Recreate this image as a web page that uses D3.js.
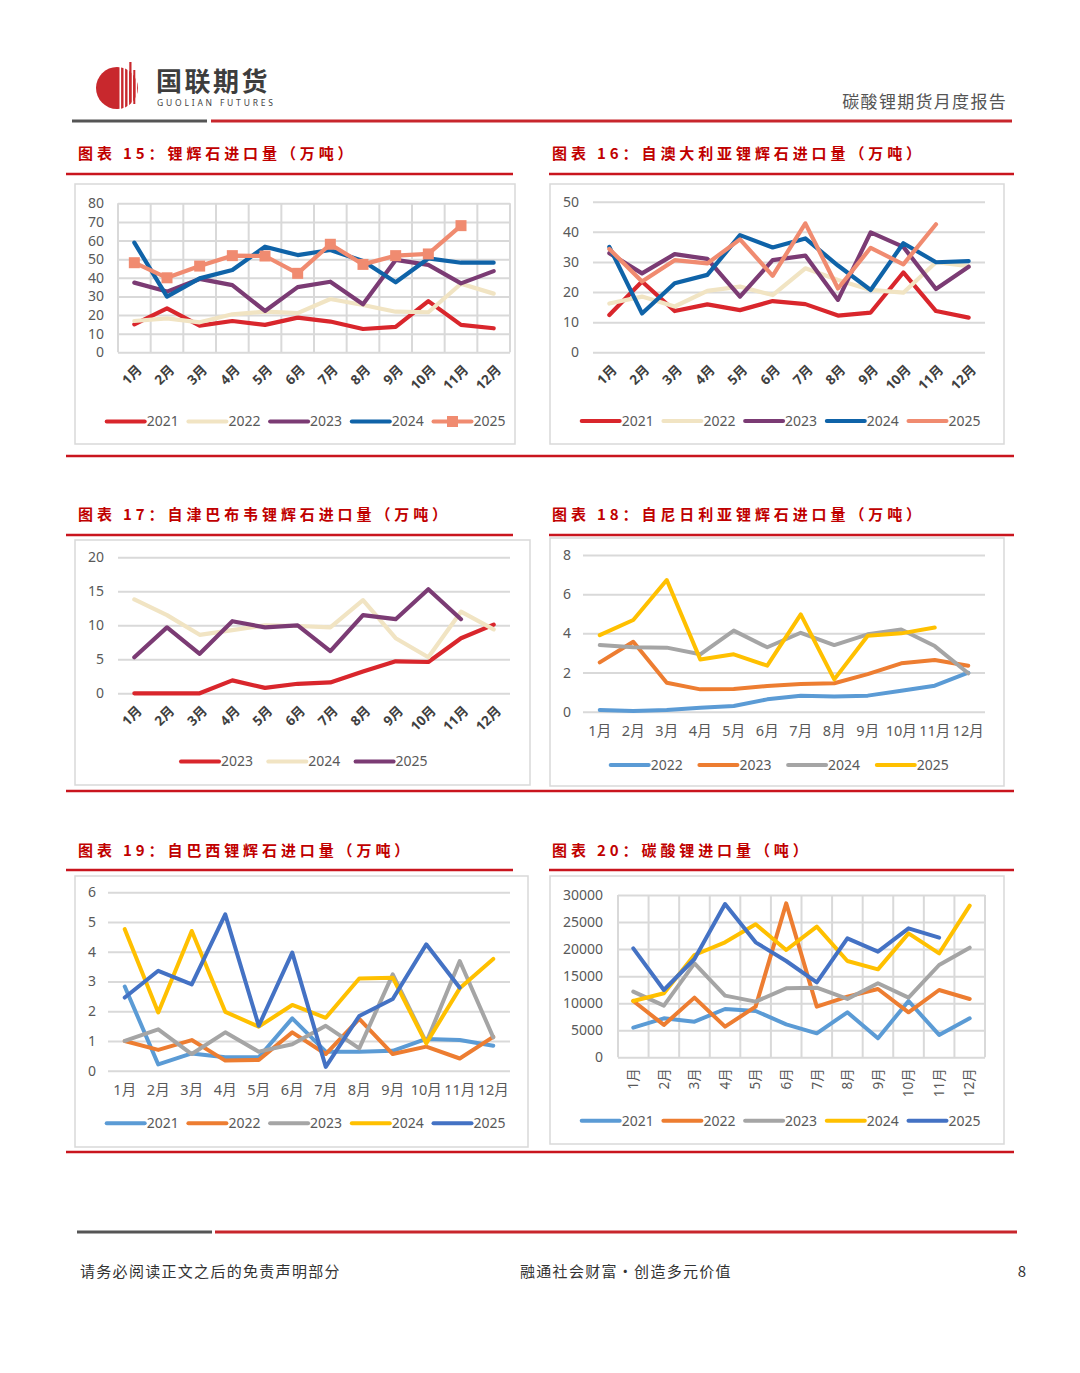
<!DOCTYPE html>
<html><head><meta charset="utf-8">
<script src="https://cdn.jsdelivr.net/npm/d3@7"></script>
<style>
body{margin:0;background:#fff;}
svg text{font-family:"Noto Sans","Noto Sans CJK SC",sans-serif;}
</style></head><body>
<svg id="page" width="1080" height="1373"></svg>
<script>
// ---------- data ----------
const months = ['1月','2月','3月','4月','5月','6月','7月','8月','9月','10月','11月','12月'];

// 图表15 锂辉石进口量（万吨）
const spod2021 = [15,23.6,14.3,16.8,14.7,18.6,16.5,12.5,13.6,27.5,14.7,12.9];
const spod2022 = [16.8,18.2,16.1,20.4,21.8,21,28.6,25.4,21.8,21.5,36.8,31.5];
const spod2023 = [37.4,32.6,39.4,36.1,22.2,35,37.9,25.8,49.6,46.9,37,43.6];
const spod2024 = [58.9,29.9,39.7,44.2,56.7,52.2,54.9,49,37.6,50.4,48.1,48.1];
const spod2025 = [48.1,40,46.3,51.9,51.7,42.4,58,47.2,51.9,52.8,68];

// 图表16 自澳大利亚
const aus2021 = [12.4,23.5,13.7,15.9,14,17,16,12.2,13.2,26.5,13.7,11.5];
const aus2022 = [16.2,18.5,15.2,20.4,21.8,19,27.9,24,20.7,19.8,29.9,28.6];
const aus2023 = [32.9,26.2,32.6,31,18.5,30.6,32.1,17.4,39.8,35,21,28.4];
const aus2024 = [35,12.9,22.9,25.7,38.9,34.8,37.8,28.8,20.7,36.2,29.9,30.3];
const aus2025 = [34.3,23.5,30.6,29.5,37.5,25.4,42.8,21.2,34.7,29.2,42.5];

// 图表17 自津巴布韦
const zim2023 = [0,0,0,1.9,0.8,1.4,1.6,3.2,4.7,4.6,8.1,10.1];
const zim2024 = [13.8,11.5,8.6,9.3,10,9.9,9.7,13.7,8.1,5.3,12,9.4];
const zim2025 = [5.3,9.7,5.8,10.6,9.7,10,6.2,11.5,10.9,15.3,10.9];

// 图表18 自尼日利亚
const nga2022 = [0.09,0.03,0.09,0.2,0.29,0.63,0.82,0.78,0.82,1.07,1.33,1.99];
const nga2023 = [2.52,3.57,1.48,1.14,1.16,1.31,1.41,1.45,1.92,2.47,2.64,2.35];
const nga2024 = [3.4,3.29,3.27,2.93,4.14,3.29,4.03,3.4,3.95,4.2,3.35,1.96];
const nga2025 = [3.91,4.68,6.72,2.67,2.93,2.35,4.97,1.65,3.88,4.0,4.3];

// 图表19 自巴西
const bra2021 = [2.83,0.21,0.58,0.45,0.45,1.76,0.64,0.64,0.67,1.07,1.03,0.84];
const bra2022 = [1.0,0.7,1.03,0.34,0.36,1.29,0.56,1.74,0.56,0.81,0.41,1.14];
const bra2023 = [1.0,1.39,0.56,1.29,0.64,0.89,1.51,0.75,3.24,0.95,3.69,1.12];
const bra2024 = [4.76,1.96,4.7,1.98,1.48,2.21,1.78,3.1,3.13,0.92,2.77,3.76];
const bra2025 = [2.46,3.36,2.9,5.26,1.51,3.97,0.13,1.84,2.41,4.25,2.79];

// 图表20 碳酸锂进口量（吨）
const li2021 = [5480,7200,6590,8930,8560,6100,4430,8320,3510,10410,4130,7200];
const li2022 = [10410,5980,11030,5670,9360,28460,9360,11210,12630,8320,12440,10780];
const li2023 = [12140,9550,17370,11400,10290,12750,12870,10780,13680,11030,17060,20270];
const li2024 = [10410,11830,18910,21250,24580,19840,24150,17800,16260,22900,19220,28030];
const li2025 = [20140,12440,18170,28340,21250,17800,13860,21990,19530,23840,22110];

const ticks15 = [0,10,20,30,40,50,60,70,80];
const ticks16 = [0,10,20,30,40,50];
const ticks17 = [0,5,10,15,20];
const ticks18 = [0,2,4,6,8];
const ticks19 = [0,1,2,3,4,5,6];
const ticks20 = [0,5000,10000,15000,20000,25000,30000];

// ---------- styles ----------
const C = {red:'#d9262c', cream:'#f1e4c3', purple:'#7b3b74', blue:'#0f63a8', salmon:'#f08b70',
  oBlue:'#5b9bd5', oOrange:'#ed7d31', oGray:'#a5a5a5', oYellow:'#ffc000', oDark:'#4472c4'};
const RULE = '#c9151e';

const svg = d3.select('#page');

// ---------- header ----------
const hdr = svg.append('g');
hdr.append('circle').attr('cx',117).attr('cy',88).attr('r',21).attr('fill','#c8282d');
[119.5,123.5,127.5,131.5,135.5].forEach(sx=>{
  hdr.append('rect').attr('x',sx).attr('y',66).attr('width',1.6).attr('height',44).attr('fill','#fff');
});
hdr.append('rect').attr('x',129.3).attr('y',62).attr('width',2.2).attr('height',40).attr('fill','#c8282d');
hdr.append('rect').attr('x',133.3).attr('y',70).attr('width',2).attr('height',34).attr('fill','#c8282d');
hdr.append('text').attr('x',156).attr('y',91).text('国联期货')
  .attr('font-size',26).attr('font-weight',700).attr('fill','#3d3d3d').attr('letter-spacing',2.5)
  .style('font-family','"Noto Sans CJK SC",sans-serif');
hdr.append('text').attr('x',157).attr('y',106).text('GUOLIAN FUTURES')
  .attr('font-size',8.5).attr('fill','#444').attr('letter-spacing',2.8);
hdr.append('text').attr('x',1007).attr('y',108).attr('text-anchor','end').text('碳酸锂期货月度报告')
  .attr('font-size',17).attr('fill','#555').attr('letter-spacing',1.3)
  .style('font-family','"Noto Sans CJK SC",sans-serif');
hdr.append('line').attr('x1',72).attr('x2',207).attr('y1',121).attr('y2',121).attr('stroke','#555').attr('stroke-width',3);
hdr.append('line').attr('x1',211).attr('x2',1012).attr('y1',121).attr('y2',121).attr('stroke','#c8262c').attr('stroke-width',3);

// ---------- footer ----------
svg.append('line').attr('x1',77).attr('x2',212).attr('y1',1232).attr('y2',1232).attr('stroke','#555').attr('stroke-width',3);
svg.append('line').attr('x1',215).attr('x2',1017).attr('y1',1232).attr('y2',1232).attr('stroke','#c8262c').attr('stroke-width',3);
const ft = [['请务必阅读正文之后的免责声明部分',80,'start',1.3],['融通社会财富·创造多元价值',520,'start',1.3],['8',1026,'end',0]];
ft.forEach(f=>svg.append('text').attr('x',f[1]).attr('y',1277).attr('text-anchor',f[2]).text(f[0])
  .attr('font-size',15).attr('fill','#333').attr('letter-spacing',f[3]).style('font-family','"Noto Sans CJK SC",sans-serif'));

// ---------- section titles & rules ----------
const titles = [
  ['图表 15：锂辉石进口量（万吨）',78,159],
  ['图表 16：自澳大利亚锂辉石进口量（万吨）',552,159],
  ['图表 17：自津巴布韦锂辉石进口量（万吨）',78,520],
  ['图表 18：自尼日利亚锂辉石进口量（万吨）',552,520],
  ['图表 19：自巴西锂辉石进口量（万吨）',78,856],
  ['图表 20：碳酸锂进口量（吨）',552,856]
];
titles.forEach(t=>svg.append('text').attr('x',t[1]).attr('y',t[2]).text(t[0])
  .attr('font-size',15).attr('font-weight',700).attr('fill','#c00000').attr('letter-spacing',3.9)
  .style('font-family','"Noto Sans CJK SC",sans-serif'));
[174,535,870].forEach(yy=>{
  svg.append('line').attr('x1',66).attr('x2',513).attr('y1',yy).attr('y2',yy).attr('stroke',RULE).attr('stroke-width',2.5);
  svg.append('line').attr('x1',549).attr('x2',1014).attr('y1',yy).attr('y2',yy).attr('stroke',RULE).attr('stroke-width',2.5);
});
[456,791,1152].forEach(yy=>{
  svg.append('line').attr('x1',66).attr('x2',1014).attr('y1',yy).attr('y2',yy).attr('stroke',RULE).attr('stroke-width',2.5);
});

// ---------- chart function ----------
function drawChart(cfg){
  const g = svg.append('g');
  g.append('rect').attr('x',cfg.box[0]).attr('y',cfg.box[1])
    .attr('width',cfg.box[2]-cfg.box[0]).attr('height',cfg.box[3]-cfg.box[1])
    .attr('fill','#fff').attr('stroke','#d9d9d9').attr('stroke-width',1.5);
  const [px0,px1,py0,py1] = cfg.plot;
  const x = d3.scaleBand().domain(months).range([px0,px1]);
  const y = d3.scaleLinear().domain(cfg.yDomain).range([py1,py0]);
  const cx = m => x(m) + x.bandwidth()/2;

  const gy = g.append('g').attr('transform',`translate(${px0},0)`)
    .call(d3.axisLeft(y).tickValues(cfg.yTicks).tickSize(-(px1-px0)).tickPadding(cfg.yPad).tickFormat(d3.format('d')));
  gy.select('.domain').remove();
  gy.selectAll('.tick line').attr('stroke','#d9d9d9').attr('stroke-width',2);
  gy.selectAll('.tick text').attr('fill','#595959').attr('font-size',14);

  if(cfg.vgrid){
    const xs = months.map(m=>x(m)).concat([px1]);
    g.append('g').selectAll('line').data(xs).join('line')
      .attr('x1',d=>d).attr('x2',d=>d).attr('y1',py0).attr('y2',py1)
      .attr('stroke','#d9d9d9').attr('stroke-width',2);
  }

  const gx = g.append('g').attr('transform',`translate(0,${py1})`).call(d3.axisBottom(x).tickSize(0));
  gx.select('.domain').remove();
  const tt = gx.selectAll('.tick text');
  if(cfg.xMode==='rot45'){
    tt.attr('y',0).attr('dy','0.35em').attr('text-anchor','end')
      .attr('transform',`translate(5,${cfg.xOff}) rotate(-45)`)
      .attr('font-size',13.5).attr('font-weight',700).attr('fill','#404040');
  } else if(cfg.xMode==='rot90'){
    tt.attr('y',0).attr('dy','0.35em').attr('text-anchor','end')
      .attr('transform',`translate(0,${cfg.xOff}) rotate(-90)`)
      .attr('font-size',13.5).attr('fill','#595959');
  } else {
    tt.attr('y',cfg.xOff).attr('dy','0.35em').attr('font-size',14.5).attr('fill','#595959');
  }

  const line = d3.line();
  cfg.series.forEach(s=>{
    const pts = s.values.map((v,i)=>[cx(months[i]), y(v)]);
    g.append('path').attr('d',line(pts)).attr('fill','none').attr('stroke',s.color)
      .attr('stroke-width',cfg.lw).attr('stroke-linejoin','round').attr('stroke-linecap','round');
    if(s.marker){
      g.append('g').selectAll('rect').data(pts).join('rect')
        .attr('x',d=>d[0]-5.5).attr('y',d=>d[1]-5.5).attr('width',11).attr('height',11).attr('fill',s.color);
    }
  });

  cfg.series.forEach((s,i)=>{
    const lx = cfg.legend[0] + i*cfg.legend[2], ly = cfg.legend[1];
    g.append('line').attr('x1',lx).attr('x2',lx+38).attr('y1',ly).attr('y2',ly)
      .attr('stroke',s.color).attr('stroke-width',4).attr('stroke-linecap','round');
    if(s.marker) g.append('rect').attr('x',lx+19-5.5).attr('y',ly-5.5).attr('width',11).attr('height',11).attr('fill',s.color);
    g.append('text').attr('x',lx+40).attr('y',ly).attr('dy','0.35em').text(s.name)
      .attr('font-size',14).attr('fill','#595959');
  });
}

drawChart({box:[75,184,515,444], plot:[118,510,203.3,352.3], yDomain:[0,80], yTicks:ticks15, yPad:14,
  vgrid:true, xMode:'rot45', xOff:15, lw:4.2, legend:[106.7,421.5,81.7],
  series:[{name:'2021',values:spod2021,color:C.red},{name:'2022',values:spod2022,color:C.cream},
          {name:'2023',values:spod2023,color:C.purple},{name:'2024',values:spod2024,color:C.blue},
          {name:'2025',values:spod2025,color:C.salmon,marker:true}]});

drawChart({box:[550,184,1004,444], plot:[593,985,201.7,352.3], yDomain:[0,50], yTicks:ticks16, yPad:14,
  vgrid:false, xMode:'rot45', xOff:15, lw:4.2, legend:[581.7,421,81.7],
  series:[{name:'2021',values:aus2021,color:C.red},{name:'2022',values:aus2022,color:C.cream},
          {name:'2023',values:aus2023,color:C.purple},{name:'2024',values:aus2024,color:C.blue},
          {name:'2025',values:aus2025,color:C.salmon}]});

drawChart({box:[75,540,530,785], plot:[118,510,557.3,693.3], yDomain:[0,20], yTicks:ticks17, yPad:14,
  vgrid:false, xMode:'rot45', xOff:15, lw:4.2, legend:[181,761.5,87.3],
  series:[{name:'2023',values:zim2023,color:C.red},{name:'2024',values:zim2024,color:C.cream},
          {name:'2025',values:zim2025,color:C.purple}]});

drawChart({box:[550,538,1004,786], plot:[583,985,555,711.7], yDomain:[0,8], yTicks:ticks18, yPad:12,
  vgrid:false, xMode:'horiz', xOff:19, lw:4, legend:[610.7,765,88.7],
  series:[{name:'2022',values:nga2022,color:C.oBlue},{name:'2023',values:nga2023,color:C.oOrange},
          {name:'2024',values:nga2024,color:C.oGray},{name:'2025',values:nga2025,color:C.oYellow}]});

drawChart({box:[75,876,528,1147], plot:[108,510,892.3,1070.7], yDomain:[0,6], yTicks:ticks19, yPad:12,
  vgrid:false, xMode:'horiz', xOff:19, lw:4, legend:[106.7,1123.3,81.7],
  series:[{name:'2021',values:bra2021,color:C.oBlue},{name:'2022',values:bra2022,color:C.oOrange},
          {name:'2023',values:bra2023,color:C.oGray},{name:'2024',values:bra2024,color:C.oYellow},
          {name:'2025',values:bra2025,color:C.oDark}]});

drawChart({box:[550,876,1004,1144], plot:[618,985,895,1057.3], yDomain:[0,30000], yTicks:ticks20, yPad:15,
  vgrid:true, xMode:'rot90', xOff:11, lw:4, legend:[581.7,1120.7,81.7],
  series:[{name:'2021',values:li2021,color:C.oBlue},{name:'2022',values:li2022,color:C.oOrange},
          {name:'2023',values:li2023,color:C.oGray},{name:'2024',values:li2024,color:C.oYellow},
          {name:'2025',values:li2025,color:C.oDark}]});
</script>
</body></html>
